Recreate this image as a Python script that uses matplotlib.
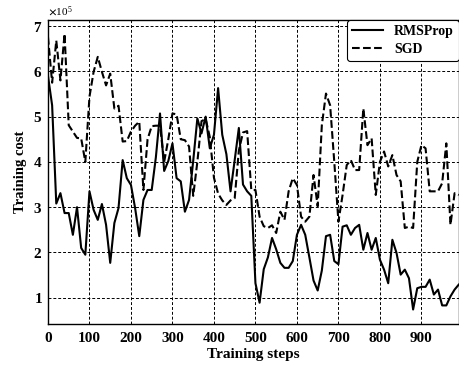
import matplotlib
matplotlib.use('Agg')
import matplotlib.pyplot as plt

plt.rcParams['font.family'] = ['Liberation Serif', 'DejaVu Serif']
plt.rcParams['font.weight'] = 'bold'
plt.rcParams['mathtext.fontset'] = 'stix'

# training steps (every 10 steps)
steps = list(range(0, 1000, 10))

# training cost, in units of 1e5
rmsprop = [5.9, 5.25, 3.08, 3.31, 2.87, 2.87, 2.39, 3.0, 2.1, 1.95,
           3.35, 2.94, 2.72, 3.07, 2.61, 1.77, 2.65, 2.98, 4.04, 3.64,
           3.49, 2.98, 2.36, 3.16, 3.38, 3.38, 4.1, 5.07, 3.8, 4.02,
           4.41, 3.64, 3.57, 2.9, 3.16, 4.02, 4.96, 4.63, 5.0, 4.3,
           4.6, 5.63, 4.6, 4.17, 3.35, 4.04, 4.75, 3.5, 3.35, 3.25,
           1.32, 0.89, 1.63, 1.89, 2.32, 2.07, 1.77, 1.66, 1.66, 1.81,
           2.39, 2.61, 2.39, 1.89, 1.38, 1.16, 1.6, 2.36, 2.39, 1.81,
           1.74, 2.57, 2.6, 2.39, 2.54, 2.61, 2.06, 2.43, 2.06, 2.32,
           1.84, 1.62, 1.32, 2.28, 1.99, 1.51, 1.62, 1.43, 0.74, 1.21,
           1.24, 1.24, 1.4, 1.07, 1.18, 0.83, 0.83, 1.03, 1.18, 1.29]

sgd = [6.76, 5.75, 6.68, 5.8, 6.83, 4.81, 4.67, 4.53, 4.52, 4.0,
       5.44, 5.99, 6.32, 5.99, 5.69, 5.95, 5.18, 5.24, 4.45, 4.46,
       4.67, 4.8, 4.89, 3.38, 4.5, 4.79, 4.8, 4.8, 4.0, 4.5,
       5.07, 5.05, 4.5, 4.48, 4.34, 3.25, 4.0, 4.9, 4.95, 4.55,
       3.65, 3.3, 3.15, 3.05, 3.15, 3.2, 4.25, 4.65, 4.68, 3.38,
       3.38, 2.79, 2.58, 2.54, 2.6, 2.43, 2.9, 2.72, 3.35, 3.64,
       3.49, 2.79, 2.68, 2.79, 3.71, 3.02, 4.81, 5.51, 5.25, 4.0,
       2.68, 3.27, 3.93, 4.04, 3.82, 3.82, 5.18, 4.37, 4.52, 3.27,
       4.0, 4.23, 3.9, 4.15, 3.71, 3.57, 2.54, 2.57, 2.54, 4.0,
       4.37, 4.3, 3.35, 3.35, 3.35, 3.53, 4.41, 2.61, 3.31, 3.27]

x_ticks = [0, 100, 200, 300, 400, 500, 600, 700, 800, 900]
y_ticks = [1e5, 2e5, 3e5, 4e5, 5e5, 6e5, 7e5]

fig = plt.figure(figsize=(4.6, 3.66), dpi=100)
ax = fig.add_axes([0.1043, 0.1148, 0.893, 0.830])

ax.plot(steps, [v * 1e5 for v in rmsprop], '-', color='black', linewidth=1.5, label='RMSProp')
ax.plot(steps, [v * 1e5 for v in sgd], '--', color='black', linewidth=1.5, label='SGD')

ax.set_xlim(0, 990)
ax.set_ylim(0.42e5, 7.13e5)
ax.set_xticks(x_ticks)
ax.set_yticks(y_ticks)
ax.ticklabel_format(axis='y', style='sci', scilimits=(5, 5), useMathText=True)
ax.yaxis.get_offset_text().set_fontsize(8)
ax.yaxis.get_offset_text().set_fontweight('normal')
ax.tick_params(direction='in', length=0, labelsize=11, pad=4)
ax.tick_params(axis='x', pad=6)

ax.grid(True, color='black', linestyle=(0, (3, 2)), linewidth=0.7)
for sp in ax.spines.values():
    sp.set_color('black')
    sp.set_linewidth(1.0)

ax.set_xlabel('Training steps', fontsize=11, fontweight='bold', labelpad=2)
ax.set_ylabel('Training cost', fontsize=10.5, fontweight='bold', labelpad=4)

leg = ax.legend(loc='upper right', borderaxespad=0, fontsize=10, handlelength=2.2,
                labelspacing=0.35, borderpad=0.35, frameon=True, fancybox=True,
                framealpha=1)
leg.get_frame().set_edgecolor('black')
leg.get_frame().set_linewidth(0.8)

plt.savefig('out.png', dpi=100)
plt.close()
